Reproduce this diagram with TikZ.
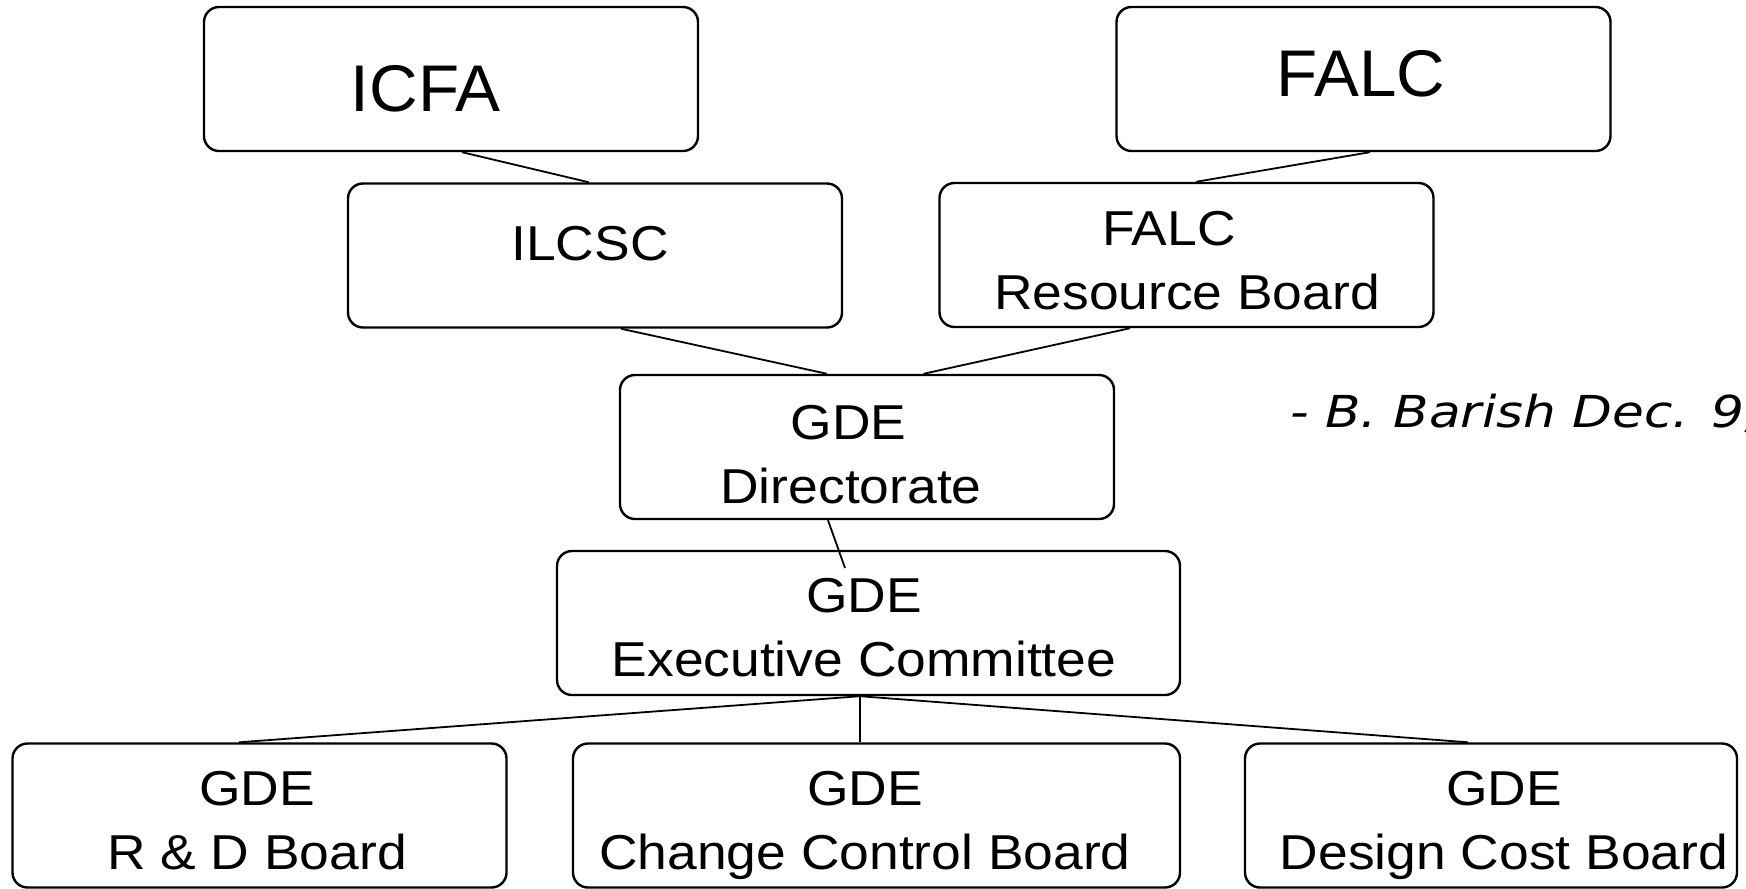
\documentclass[tikz,border=0pt]{standalone}
\usepackage{fontspec}
\setmainfont{Liberation Sans}
\newfontfamily\boxfont[FakeStretch=1.09]{Liberation Sans}
\newfontfamily\bigfont[FakeStretch=1.02]{Liberation Sans}
\newfontfamily\notefont[FakeStretch=1.175]{DejaVu Sans}
\begin{document}
\begin{tikzpicture}[x=0.5pt,y=-0.5pt,
  box/.style={draw, line width=1.2pt, rounded corners=7.5pt, inner sep=0pt,
              minimum width=247pt, minimum height=72pt},
  txt/.style={inner sep=0pt, align=center,
              font=\boxfont\fontsize{24.5}{32}\selectfont,
              text height=17.5pt, text depth=0pt},
  two/.style={text height=49.5pt},
  bigtxt/.style={inner sep=0pt, font=\bigfont\fontsize{33}{38}\selectfont,
              text height=23.6pt, text depth=0pt},
  link/.style={line width=0.9pt}]
\path[fill=white, use as bounding box] (0,0) rectangle (1746,889);

% boxes
\node[box] (icfa)   at (451,79)     {};
\node[box] (falc)   at (1363.5,79)  {};
\node[box] (ilcsc)  at (595,255.5)  {};
\node[box] (falcrb) at (1186.5,255) {};
\node[box] (dir)    at (867,447)    {};
\node[box, minimum width=311.5pt] (exec) at (868.5,623) {};
\node[box] (rd)     at (259.5,815.5) {};
\node[box, minimum width=303.5pt] (ccb) at (876.5,815.5) {};
\node[box, minimum width=246pt] (dcb) at (1491,815.5) {};

% texts
\node[bigtxt] (icfat) at (425.5,88) {ICFA};
\node[bigtxt] (falct) at (1361,73) {FALC};
\node[txt] (ilcsct) at (590,243) {ILCSC};
\node[txt, two] (falcrbt) at (1187,259.5) {FALC\kern18pt\\Resource Board};
\node[txt, two] (dirt) at (851,454) {GDE\kern2.5pt\\Directorate};
\node[txt, two] (exect) at (864,627) {GDE\\Executive Committee};
\node[txt, two] (rdt) at (257,819.5) {GDE\\R \& D Board};
\node[txt, two] (ccbt) at (865,819.5) {GDE\\Change Control Board};
\node[txt, two] (dcbt) at (1504,819.5) {GDE\\Design Cost Board};

\node[anchor=base west, inner sep=0pt] (note) at (1290,427)
  {\notefont\itshape\fontsize{22}{26}\selectfont - B. Barish Dec. 9,};

% connectors
\coordinate (dirend) at (845,568);
\draw[link] ([xshift=5.5pt]icfa.south) -- ([xshift=-3pt]ilcsc.north);
\draw[link] ([xshift=3.25pt]falc.south) -- ([xshift=4.75pt]falcrb.north);
\draw[link] ([xshift=13pt]ilcsc.south) -- ([xshift=-20pt]dir.north);
\draw[link] ([xshift=-28.25pt]falcrb.south) -- ([xshift=28.25pt]dir.north);
\draw[link] ([xshift=-19.5pt]dir.south) -- (dirend);
\draw[link] ([xshift=-4.25pt]exec.south) -- ([xshift=-10.25pt]rd.north);
\draw[link] ([xshift=-4.25pt]exec.south) -- ([xshift=-8.25pt]ccb.north);
\draw[link] ([xshift=-4.25pt]exec.south) -- ([xshift=-11.5pt]dcb.north);
\end{tikzpicture}
\end{document}
